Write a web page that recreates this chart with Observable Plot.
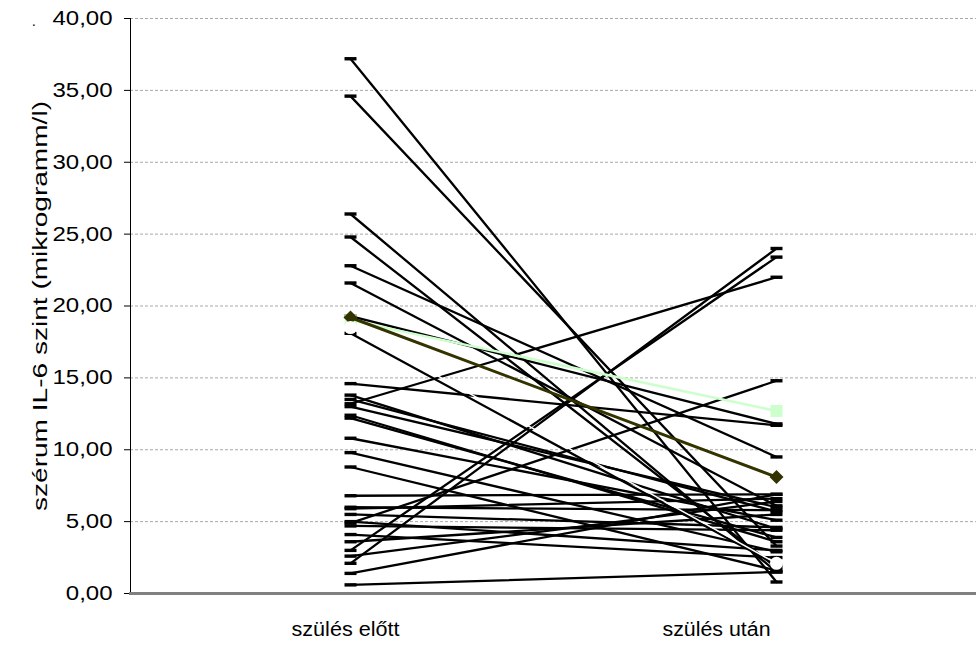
<!DOCTYPE html>
<html>
<head>
<meta charset="utf-8">
<script src="https://cdn.jsdelivr.net/npm/d3@7"></script>
<script src="https://cdn.jsdelivr.net/npm/@observablehq/plot@0.6"></script>
<style>
  html, body { margin: 0; padding: 0; background: #fff; }
  #chart svg { display: block; }
</style>
</head>
<body>
<div id="chart"></div>
<script>
// Categories
const phases = ["szülés előtt", "szülés után"];
// Individual patients: value before and after birth
const before = [37.2, 34.6, 26.4, 24.8, 22.8, 21.6, 19.3, 18.1, 14.6, 13.8, 13.5, 13.2, 13.0, 12.4, 12.2, 10.8,
                9.8, 8.8, 6.8, 6.0, 5.9, 5.5, 5.0, 4.9, 4.7, 4.1, 3.6, 3.0, 2.6, 2.1, 1.4, 0.6];
const after  = [0.8, 3.3, 1.5, 1.8, 9.5, 6.1, 11.8, 2.0, 11.7, 4.5, 5.7, 22.0, 6.0, 3.6, 3.9, 5.1,
                2.9, 1.6, 6.9, 5.8, 6.6, 4.6, 3.0, 14.8, 4.4, 2.5, 5.5, 23.4, 6.4, 24.0, 6.9, 1.5];
// Summary series
const greenSeries = [19.0, 12.7];
const oliveSeries = [19.2, 8.1];
const whiteSeries = [18.5, 2.1];
// Y ticks
const yTicks = [0, 5, 10, 15, 20, 25, 30, 35, 40];
const yLabel = "szérum IL-6 szint (mikrogramm/l)";

const rows = [];
before.forEach((v, i) => {
  rows.push({id: i, phase: phases[0], value: v});
  rows.push({id: i, phase: phases[1], value: after[i]});
});
const toRows = (arr) => arr.map((v, j) => ({phase: phases[j], value: v}));
const greenRows = toRows(greenSeries);
const oliveRows = toRows(oliveSeries);
const whiteRows = toRows(whiteSeries);

const fmt = d => d3.format(".2f")(d).replace(".", ",");

const dash = {draw(ctx) { ctx.rect(-6, -1.7, 12, 3.4); }};
const square = {draw(ctx) { ctx.rect(-6, -6, 12, 12); }};
const diamond = {draw(ctx) { ctx.moveTo(0, -7); ctx.lineTo(7, 0); ctx.lineTo(0, 7); ctx.lineTo(-7, 0); ctx.closePath(); }};

const font = "'Liberation Sans', Arial, sans-serif";

const chart = Plot.plot({
  width: 976,
  height: 647,
  marginLeft: 130,
  marginRight: 0,
  marginTop: 18,
  marginBottom: 54,
  style: {fontFamily: font, background: "#fff", color: "#000"},
  x: {type: "point", domain: phases, range: [350, 776], padding: 0, axis: null},
  y: {domain: [0, 40], axis: null},
  marks: [
    Plot.ruleY(yTicks.filter(d => d > 0), {stroke: "#a8a8a8", strokeWidth: 1, strokeDasharray: "3,2"}),
    Plot.axisY({ticks: yTicks, tickFormat: fmt, tickSize: 6, tickPadding: 12, fontSize: 20, stroke: "#000", label: null}),
    Plot.text([phases[0]], {x: d => d, frameAnchor: "bottom", dy: 42, dx: -5, fontSize: 20, fill: "#000", className: "xlab"}),
    Plot.text([phases[1]], {x: d => d, frameAnchor: "bottom", dy: 42, dx: -60, fontSize: 20, fill: "#000", className: "xlab"}),
    Plot.frame({anchor: "left", stroke: "#000", strokeWidth: 1}),
    Plot.text([yLabel], {frameAnchor: "left", dx: -90, rotate: -90, textAnchor: "middle", fontSize: 20, fill: "#000", className: "ylab"}),
    Plot.text(["·"], {frameAnchor: "top-left", dx: -99, dy: 1, fontSize: 14, fill: "#000"}),
    Plot.line(rows, {x: "phase", y: "value", z: "id", stroke: "#000", strokeWidth: 2.3}),
    Plot.dot(rows, {x: "phase", y: "value", symbol: dash, fill: "#000", stroke: null}),
    Plot.line(greenRows, {x: "phase", y: "value", stroke: "#ccffcc", strokeWidth: 2.5}),
    Plot.dot(greenRows, {x: "phase", y: "value", symbol: square, fill: "#ccffcc", stroke: null}),
    Plot.line(oliveRows, {x: "phase", y: "value", stroke: "#333300", strokeWidth: 3}),
    Plot.dot(oliveRows, {x: "phase", y: "value", symbol: diamond, fill: "#333300", stroke: null}),
    Plot.line(whiteRows, {x: "phase", y: "value", stroke: "#ffffff", strokeWidth: 1.5}),
    Plot.dot(whiteRows, {x: "phase", y: "value", r: 6.5, fill: "#ffffff", stroke: null}),
    Plot.frame({anchor: "bottom", stroke: "#808080", strokeWidth: 3})
  ]
});
document.getElementById("chart").appendChild(chart);
// Stretch label text lengths to match the reference rendering
d3.select(chart).selectAll("g.ylab text").attr("textLength", 410).attr("lengthAdjust", "spacingAndGlyphs");
d3.select(chart).selectAll("g.xlab text").attr("textLength", 108).attr("lengthAdjust", "spacingAndGlyphs");
d3.select(chart).selectAll("g[aria-label='y-axis tick label'] text").each(function() {
  const w = this.getComputedTextLength();
  d3.select(this).attr("textLength", w * 1.2).attr("lengthAdjust", "spacingAndGlyphs");
});
</script>
</body>
</html>
